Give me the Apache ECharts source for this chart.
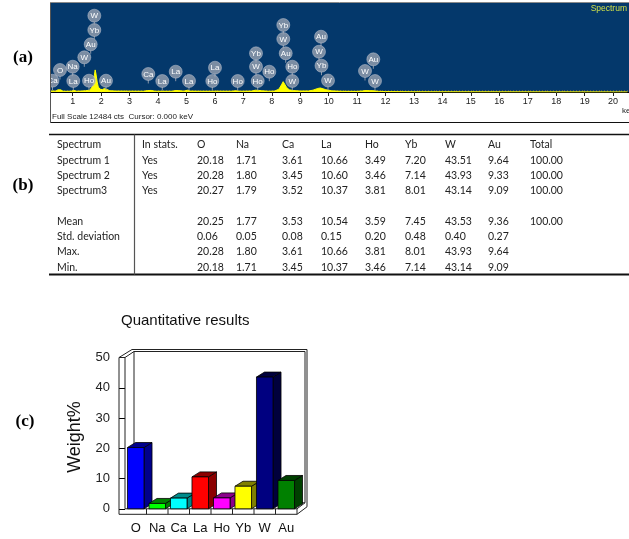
<!DOCTYPE html>
<html>
<head>
<meta charset="utf-8">
<script src="https://cdn.jsdelivr.net/npm/echarts@6/dist/echarts.min.js"></script>
<style>
  html, body { margin: 0; padding: 0; background: #fff; }
  #main { width: 629px; height: 539px; }
</style>
</head>
<body>
<div id="main"></div>
<script>
// ---------- (a) EDS spectrum ----------
const fullScaleCts = 12484;
const specKeV = [0.24, 0.30, 0.40, 0.48, 0.53, 0.58, 0.66, 0.80, 0.95, 1.04, 1.12, 1.30, 1.45, 1.52, 1.60, 1.66,
  1.72, 1.76, 1.79, 1.82, 1.86, 1.90, 1.96, 2.04, 2.12, 2.20, 2.30, 2.50, 3.00, 3.50, 3.62, 3.69, 3.76, 3.90,
  4.50, 4.60, 4.65, 4.72, 4.90, 5.04, 5.12, 5.50, 5.90, 6.00, 6.60, 6.72, 6.90, 7.30, 7.42, 7.53, 7.65, 7.90,
  8.10, 8.25, 8.34, 8.40, 8.46, 8.53, 8.62, 8.75, 9.00, 9.30, 9.45, 9.62, 9.71, 9.80, 9.90, 10.00, 10.10, 10.50,
  11.00, 11.20, 11.28, 11.45, 11.60, 11.75, 12.00, 13.00, 15.00, 20.50];
const specCts = [150, 260, 120, 300, 480, 300, 110, 100, 120, 230, 120, 130, 180, 320, 260, 380,
  900, 2300, 3100, 2500, 1400, 700, 400, 330, 500, 360, 180, 140, 120, 110, 200, 420, 220, 110,
  110, 200, 330, 200, 120, 250, 130, 110, 110, 120, 110, 180, 110, 130, 250, 230, 170, 110,
  130, 400, 1000, 1450, 1200, 600, 300, 200, 140, 150, 260, 500, 560, 450, 320, 260, 160, 100,
  90, 150, 200, 190, 170, 100, 60, 30, 20, 10];
const keVTickLabels = [1, 2, 3, 4, 5, 6, 7, 8, 9, 10, 11, 12, 13, 14, 15, 16, 17, 18, 19, 20];

// element identification tags: energy (keV), height (cts), symbol
const tagKeV = [0.29, 0.553, 1.0, 1.021, 1.408, 1.633, 1.76, 1.76, 1.573, 2.171, 3.658, 4.15, 4.622, 5.089,
  6.003, 5.909, 6.802, 7.445, 7.445, 7.913, 7.505, 8.405, 8.405, 8.49, 8.721, 8.721, 9.731, 9.66, 9.748,
  9.977, 11.57, 11.278, 11.629];
const tagCts = [1585, 3086, 3549, 1543, 4867, 6691, 8697, 10703, 1585, 1585, 2525, 1543, 2848, 1543,
  3409, 1543, 1543, 5428, 3549, 2848, 1543, 9398, 7434, 5428, 3549, 1543, 7757, 5653, 3689,
  1613, 4587, 2946, 1543];
const tagText = ['Ca', 'O', 'Na', 'La', 'W', 'Au', 'Yb', 'W', 'Ho', 'Au', 'Ca', 'La', 'La', 'La',
  'La', 'Ho', 'Ho', 'Yb', 'W', 'Ho', 'Ho', 'Yb', 'W', 'Au', 'Ho', 'W', 'Au', 'W', 'Yb',
  'W', 'Au', 'W', 'W'];

// ---------- (b) quantitative table ----------
const elements = ['O', 'Na', 'Ca', 'La', 'Ho', 'Yb', 'W', 'Au'];
const spectrumNames = ['Spectrum 1', 'Spectrum 2', 'Spectrum3'];
const inStats = ['Yes', 'Yes', 'Yes'];
const spectrum1 = [20.18, 1.71, 3.61, 10.66, 3.49, 7.20, 43.51, 9.64];
const spectrum2 = [20.28, 1.80, 3.45, 10.60, 3.46, 7.14, 43.93, 9.33];
const spectrum3 = [20.27, 1.79, 3.52, 10.37, 3.81, 8.01, 43.14, 9.09];
const spectrumTotals = [100.00, 100.00, 100.00];
const statNames = ['Mean', 'Std. deviation', 'Max.', 'Min.'];
const meanW = [20.25, 1.77, 3.53, 10.54, 3.59, 7.45, 43.53, 9.36];
const stdW = [0.06, 0.05, 0.08, 0.15, 0.20, 0.48, 0.40, 0.27];
const maxW = [20.28, 1.80, 3.61, 10.66, 3.81, 8.01, 43.93, 9.64];
const minW = [20.18, 1.71, 3.45, 10.37, 3.46, 7.14, 43.14, 9.09];
const meanTotal = 100.00;

// ---------- (c) bar chart styling ----------
const barFront = ['#0000ff', '#00ff00', '#00ffff', '#ff0000', '#ff00ff', '#ffff00', '#000080', '#008000'];
const barShade = ['#00008b', '#008000', '#008b8b', '#8b0000', '#8b008b', '#808000', '#00003c', '#004000'];

const chart = echarts.init(document.getElementById('main'), null, { renderer: 'canvas' });

const specMin = 0.237, specMax = 20.56;
const minorTicks = [];
for (let k = 3; k <= 205; k++) minorTicks.push(k / 10);

const tableFont = '"Lato", "Open Sans", sans-serif';
const smallFont = '"Liberation Sans", Arial, sans-serif';

function renderTag(params, api) {
  const c = api.coord([api.value(0), api.value(1)]);
  const name = tagText[api.value(2)];
  return {
    type: 'group',
    children: [
      { type: 'line', shape: { x1: c[0], y1: c[1] + 6, x2: c[0], y2: c[1] + 9.5 },
        style: { stroke: 'rgba(150,160,175,0.9)', lineWidth: 1 } },
      { type: 'circle', shape: { cx: c[0], cy: c[1], r: 6.5 },
        style: { fill: 'rgba(150,160,176,0.82)', stroke: 'rgba(195,202,214,0.6)', lineWidth: 0.8 } },
      { type: 'text', x: c[0], y: c[1] + 0.5,
        style: { text: name, fill: '#ffffff', font: '8px ' + smallFont, align: 'center', verticalAlign: 'middle' } }
    ]
  };
}

const depthX = 8, depthY = -5;
function renderBar3D(params, api) {
  const i = api.value(0);
  const base = api.coord([i, 0]);
  const top = api.coord([i, api.value(1)]);
  const band = api.size([1, 0])[0];
  const w = band * 0.77;
  const x0 = base[0] - w / 2, x1 = base[0] + w / 2;
  const yb = base[1], yt = top[1];
  const edge = { stroke: '#000', lineWidth: 0.8 };
  return {
    type: 'group',
    children: [
      { type: 'polygon', shape: { points: [[x1, yt], [x1 + depthX, yt + depthY], [x1 + depthX, yb + depthY], [x1, yb]] },
        style: Object.assign({ fill: barShade[i] }, edge) },
      { type: 'polygon', shape: { points: [[x0, yt], [x1, yt], [x1 + depthX, yt + depthY], [x0 + depthX, yt + depthY]] },
        style: Object.assign({ fill: barShade[i] }, edge) },
      { type: 'rect', shape: { x: x0, y: yt, width: w, height: yb - yt },
        style: Object.assign({ fill: barFront[i] }, edge) }
    ]
  };
}

const option = {
  animation: false,
  title: {
    text: 'Quantitative results', left: 116, top: 308,
    textStyle: { fontFamily: smallFont, fontSize: 15, fontWeight: 'normal', color: '#111' }
  },
  grid: [
    { left: 51, top: 3, width: 578, height: 89, show: true, backgroundColor: '#04386b', borderWidth: 0 },
    { left: 125, top: 357.5, width: 172, height: 151.3, show: false }
  ],
  xAxis: [
    { gridIndex: 0, type: 'value', min: specMin, max: specMax,
      axisLine: { show: true, onZero: false, lineStyle: { color: '#000', width: 1 } },
      axisTick: { show: true, customValues: keVTickLabels, length: 4, lineStyle: { color: '#222' } },
      axisLabel: { customValues: keVTickLabels, fontSize: 9, color: '#222', margin: 5, fontFamily: smallFont },
      splitLine: { show: false } },
    { gridIndex: 0, type: 'value', min: specMin, max: specMax,
      axisLine: { show: false },
      axisTick: { show: true, customValues: minorTicks, length: 2, lineStyle: { color: '#555' } },
      axisLabel: { show: false }, splitLine: { show: false } },
    { gridIndex: 1, type: 'category', data: elements,
      axisLine: { show: false }, axisTick: { show: false },
      axisLabel: { interval: 0, fontSize: 13, color: '#111', margin: 13, fontFamily: smallFont } }
  ],
  yAxis: [
    { gridIndex: 0, type: 'value', min: 0, max: fullScaleCts, show: false },
    { gridIndex: 1, type: 'value', min: 0, max: 50, interval: 10,
      axisLine: { show: false },
      axisTick: { show: true, length: 6, lineStyle: { color: '#000' } },
      axisLabel: { fontSize: 13, color: '#222', margin: 15, fontFamily: smallFont },
      splitLine: { show: false } }
  ],
  series: [
    { type: 'line', xAxisIndex: 0, yAxisIndex: 0, showSymbol: false, z: 3,
      data: specKeV.map((k, i) => [k, specCts[i]]),
      lineStyle: { color: '#ffff00', width: 1 }, areaStyle: { color: '#ffff00', opacity: 1 } },
    { type: 'custom', xAxisIndex: 0, yAxisIndex: 0, clip: true, z: 4,
      data: tagKeV.map((k, i) => [k, tagCts[i], i]), renderItem: renderTag },
    { type: 'custom', xAxisIndex: 2, yAxisIndex: 1, z: 5,
      data: elements.map((e, i) => [i, meanW[i]]), renderItem: renderBar3D }
  ]
};
chart.setOption(option);

// ---------- frame, table and panel captions ----------
const g = [];
function txt(x, y, s, font, fill, align, extra) {
  g.push(Object.assign({ type: 'text', x: x, y: y, z: 10,
    style: { text: s, font: font, fill: fill || '#222', align: align || 'left', verticalAlign: 'middle' } }, extra || {}));
}
function ln(x1, y1, x2, y2, stroke, width, z) {
  g.push({ type: 'line', z: z || 10, shape: { x1: x1, y1: y1, x2: x2, y2: y2 },
    style: { stroke: stroke || '#000', lineWidth: width || 1 } });
}

// spectrum window border and captions
ln(50.5, 2.5, 629, 2.5, '#8a8a8a', 1);
ln(50.5, 2.5, 50.5, 122.5, '#555', 1);
ln(50.5, 122.5, 629, 122.5, '#111', 1.2);
txt(627, 8.5, 'Spectrum', '8.5px ' + smallFont, '#cfe04a', 'right');
txt(52, 117, 'Full Scale 12484 cts  Cursor: 0.000 keV', '8px ' + smallFont, '#222');
txt(622, 111, 'keV', '8px ' + smallFont, '#222');

// table rules
const colX = [57, 142, 197, 236, 282, 321, 365, 405, 445, 488, 530];
const rowY = [145, 160.3, 175.6, 190.9, 221.5, 236.8, 252.1, 267.2];
ln(49, 134.5, 629, 134.5, '#111', 1.6);
ln(49, 274.5, 629, 274.5, '#111', 1.8);
ln(134.5, 134.5, 134.5, 274.5, '#555', 1.2);

const tf = '10.5px ' + tableFont;
const fmt = v => v.toFixed(2);
['Spectrum', 'In stats.'].concat(elements, ['Total']).forEach((h, c) => txt(colX[c], rowY[0], h, tf));
[spectrum1, spectrum2, spectrum3].forEach((row, r) => {
  txt(colX[0], rowY[r + 1], spectrumNames[r], tf);
  txt(colX[1], rowY[r + 1], inStats[r], tf);
  row.forEach((v, c) => txt(colX[c + 2], rowY[r + 1], fmt(v), tf));
  txt(colX[10], rowY[r + 1], fmt(spectrumTotals[r]), tf);
});
[meanW, stdW, maxW, minW].forEach((row, r) => {
  txt(colX[0], rowY[r + 4], statNames[r], tf);
  row.forEach((v, c) => txt(colX[c + 2], rowY[r + 4], fmt(v), tf));
});
txt(colX[10], rowY[4], fmt(meanTotal), tf);

// panel captions
const capFont = 'bold 17px "Liberation Serif", "DejaVu Serif", serif';
txt(23, 58, '(a)', capFont, '#000', 'center');
txt(23, 186, '(b)', capFont, '#000', 'center');
txt(25, 422, '(c)', capFont, '#000', 'center');

// y-axis title of the bar chart
g.push({ type: 'text', x: 75, y: 437, rotation: Math.PI / 2, z: 10,
  style: { text: 'Weight%', font: '18px ' + smallFont, fill: '#111', align: 'center', verticalAlign: 'middle' } });

// 3D box of the bar chart, positioned from the axes
const pA = chart.convertToPixel({ xAxisIndex: 2, yAxisIndex: 1 }, [0, 0]);
const pB = chart.convertToPixel({ xAxisIndex: 2, yAxisIndex: 1 }, [1, 50]);
const band = pB[0] - pA[0];
const L = pA[0] - band / 2, R = L + band * elements.length, B = pA[1], T = pB[1];
const fc = '#222', fz = 1;
ln(L - 6, T, L - 6, B + 5.5, fc, 1, fz);
ln(L, T, L, B, fc, 1, fz);
ln(L - 6, T, L, T, fc, 1, fz);
ln(L - 6, T, L + 7, T - 8, fc, 1, fz);
ln(L, T, L + 9, T - 6, fc, 1, fz);
ln(L + 7, T - 8, R + 10, T - 8, fc, 1, fz);
ln(L + 9, T - 6, R + 8, T - 6, fc, 1, fz);
ln(R + 10, T - 8, R + 10, B - 2, fc, 1, fz);
ln(R + 8, T - 6, R + 8, B - 6, fc, 1, fz);
ln(L + 9, T - 6, L + 9, B - 6, fc, 1, fz);
ln(L + 9, B - 6, R + 8, B - 6, fc, 1, fz);
ln(L, B, R, B, fc, 1, fz);
ln(L - 6, B + 5.5, R, B + 5.5, fc, 1, fz);
ln(R, B, R, B + 5.5, fc, 1, fz);
ln(R, B, R + 8, B - 6, fc, 1, fz);
ln(R, B + 5.5, R + 10, B - 2, fc, 1, fz);
for (let k = 1; k < elements.length; k++) ln(L + k * band, B, L + k * band, B + 5.5, fc, 1, fz);

chart.setOption({ graphic: { elements: g } });
</script>
</body>
</html>
